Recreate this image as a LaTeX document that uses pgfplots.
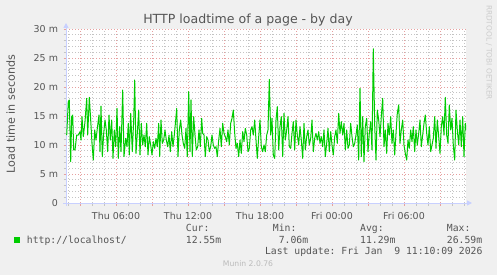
\documentclass[border=0pt]{standalone}
\usepackage{pgfplots}
\pgfplotsset{compat=1.18}
\usepackage{pgfplotstable}
\usepackage{fontspec}
\setmainfont{DejaVu Sans}
\setmonofont{DejaVu Sans Mono}
\usetikzlibrary{arrows.meta}
\definecolor{canvas}{HTML}{F0F0F0}
\definecolor{munin}{HTML}{00CC00}
\definecolor{majgrid}{HTML}{E6A0A0}
\definecolor{mingrid}{HTML}{C4C4C4}
\definecolor{axiscol}{HTML}{C8D0FF}
\definecolor{txtcol}{HTML}{555555}
\definecolor{foot}{HTML}{BBBBBB}
\definecolor{rrd}{HTML}{CCCCCC}
% k = 5-minute slot since Thu 01:50 (k=400 -> Fri 11:10), v = load time in ms
\pgfplotstableread{
k v
0.7 11.72
2.3 17.47
3.3 17.76
4.7 7.13
5.7 14.89
6.7 15.17
7.7 9.14
9.0 9.14
10.7 11.72
12.3 11.72
14.0 12.30
15.0 10.86
16.0 14.89
17.3 11.44
19.0 14.02
20.7 18.05
21.7 11.72
23.3 18.22
24.7 14.31
26.0 10.29
27.3 7.41
28.7 12.59
30.0 10.86
31.3 12.87
33.0 15.17
34.0 8.85
35.0 16.72
36.3 7.99
37.7 12.01
39.0 14.31
40.3 12.59
41.7 8.85
43.0 15.17
44.3 10.86
45.7 14.31
47.0 7.70
48.3 12.59
49.7 9.71
51.0 16.32
52.3 7.70
53.7 13.16
55.0 8.85
56.7 19.48
58.0 7.99
59.7 11.15
61.0 9.71
62.3 13.74
63.3 8.28
64.7 15.46
66.3 8.85
67.7 14.31
68.7 21.21
70.0 8.56
71.3 12.01
72.7 16.03
74.0 8.28
75.3 13.74
76.7 10.00
78.0 11.72
79.3 9.71
80.7 13.74
82.0 8.28
83.3 11.44
84.7 10.00
86.0 8.28
87.3 10.57
88.7 9.43
90.0 11.15
91.3 9.71
92.7 13.74
93.7 7.99
95.0 14.31
96.3 10.29
97.7 10.86
99.0 12.59
100.3 10.86
101.7 9.71
103.0 11.72
104.3 8.85
105.7 12.30
107.0 9.71
108.3 11.72
109.7 14.31
110.7 16.32
112.0 7.99
113.3 12.59
114.7 14.31
116.0 11.72
117.3 10.29
118.7 9.43
120.0 12.87
121.3 7.99
122.7 19.20
124.0 8.85
125.0 17.76
126.3 7.99
127.7 14.89
129.0 11.72
130.3 9.14
131.7 9.71
133.0 12.59
134.3 9.71
135.7 14.60
136.7 12.01
138.0 11.72
139.3 7.99
140.7 11.44
142.0 10.86
143.3 8.85
144.7 9.71
146.0 11.72
147.3 10.00
148.7 9.43
150.0 9.71
151.3 7.99
152.7 10.86
154.0 12.87
155.3 9.71
156.7 13.74
158.0 12.01
159.3 11.44
160.7 10.57
162.0 12.59
163.3 10.00
164.7 13.74
166.0 14.60
167.3 16.03
168.7 12.01
170.0 9.43
171.3 10.29
172.7 7.99
174.0 10.86
175.3 8.56
176.7 12.30
178.0 10.57
179.3 12.87
180.7 11.72
182.0 8.85
183.3 9.43
184.7 12.59
186.0 13.16
187.3 11.72
188.7 14.31
190.0 10.86
191.3 7.70
192.7 11.44
194.0 14.31
195.3 9.71
196.7 8.85
198.0 10.00
199.3 8.85
200.7 11.72
202.0 12.59
203.3 21.32
204.7 11.72
206.0 14.60
207.3 8.28
208.7 7.70
210.0 14.31
211.3 16.61
212.7 9.14
214.0 13.16
215.3 14.89
216.7 7.99
218.0 15.46
219.3 10.86
220.7 12.59
222.0 14.89
223.3 9.71
224.7 9.43
226.0 12.01
227.3 14.02
228.7 9.14
230.0 14.31
231.3 11.72
232.7 10.00
234.0 13.16
235.3 10.86
236.7 7.70
238.0 13.74
239.3 9.14
240.7 11.44
242.0 12.59
243.3 10.00
244.7 11.15
246.0 14.31
247.3 8.85
248.7 11.15
250.0 12.01
251.3 10.86
252.7 12.30
254.0 10.29
255.3 11.44
256.7 9.71
258.0 12.59
259.3 7.99
260.7 10.29
262.0 12.87
263.3 8.85
264.7 12.30
266.0 10.00
267.3 8.28
268.7 11.44
270.0 12.59
271.3 10.29
272.7 15.46
274.0 12.01
275.3 14.02
276.7 11.72
278.0 13.74
279.3 9.14
280.7 12.59
282.0 9.43
283.3 10.00
284.7 13.74
286.0 11.44
287.3 9.71
288.7 10.29
290.0 11.72
291.3 13.45
292.7 7.41
294.0 19.77
295.3 7.99
296.7 14.89
298.0 7.13
299.3 13.16
300.7 14.60
302.0 8.85
303.3 12.01
304.7 14.02
306.0 9.14
307.3 26.59
308.7 13.45
310.0 7.41
311.3 16.03
312.7 14.31
314.0 11.44
315.3 14.89
316.7 18.05
318.0 9.71
319.3 12.59
320.7 8.56
322.0 13.74
323.3 11.72
324.7 14.89
326.0 10.29
327.3 12.59
328.7 8.28
330.0 12.01
331.3 15.46
332.7 16.90
334.0 10.29
335.3 12.59
336.7 14.31
338.0 10.00
339.3 8.56
340.7 7.41
342.0 10.86
343.3 9.43
344.7 12.59
346.0 10.57
347.3 13.16
348.7 8.85
350.0 12.59
351.3 10.00
352.7 12.01
354.0 14.31
355.3 9.71
356.7 11.72
358.0 13.74
359.3 15.17
360.7 12.01
362.0 10.00
363.3 13.16
364.7 8.85
366.0 10.00
367.3 11.15
368.7 14.89
370.0 9.43
371.3 14.31
372.7 11.44
374.0 8.56
375.3 13.16
376.7 14.89
378.0 11.72
379.3 18.22
380.7 11.72
382.0 10.29
383.3 16.90
384.7 12.59
386.0 14.60
387.3 10.00
388.7 7.41
390.0 16.03
391.3 12.59
392.7 10.00
394.0 14.31
395.3 9.71
396.7 14.89
398.0 7.99
399.3 13.74
400.0 12.55
}\loaddata

\begin{document}
\begin{tikzpicture}
\useasboundingbox (0,0) rectangle (497bp,275bp);
\fill[canvas] (0,0) rectangle (497bp,275bp);
\begin{axis}[
  at={(66bp,72bp)}, anchor=south west,
  scale only axis, width=400bp, height=174bp,
  xmin=0, xmax=400, ymin=0, ymax=30,
  axis background/.style={fill=white},
  axis x line=bottom, axis y line=left,
  axis line style={draw=axiscol, line width=1bp},
  x axis line style={-{Triangle[length=5bp,width=5bp]}, shorten >=-6bp, shorten <=-3bp},
  y axis line style={-{Triangle[length=5bp,width=5bp]}, shorten >=-6bp, shorten <=-3bp},
  xtick={14,50,...,374},
  xticklabels={,Thu 06:00,,Thu 12:00,,Thu 18:00,,Fri 00:00,,Fri 06:00,},
  minor xtick={2,26,38,62,74,98,110,134,146,170,182,206,218,242,254,278,290,314,326,350,362,386,398},
  ytick={0,5,...,30},
  yticklabels={0,5 m,10 m,15 m,20 m,25 m,30 m},
  minor ytick={1,2,3,4,6,7,8,9,11,12,13,14,16,17,18,19,21,22,23,24,26,27,28,29},
  grid=both,
  major grid style={draw=majgrid, line width=0.6bp, dash pattern=on 1bp off 2bp},
  minor grid style={draw=mingrid, line width=0.6bp, dash pattern=on 1bp off 2bp},
  tick align=outside, major tick length=2.5bp, minor tick length=2.5bp,
  major tick style={draw=majgrid, line width=0.6bp},
  minor tick style={draw=mingrid, line width=0.6bp},
  tick label style={font=\fontsize{9.5}{11}\selectfont, text=txtcol},
  xticklabel style={anchor=base, inner sep=0pt, yshift=-13.5bp},
  yticklabel style={anchor=east, inner sep=0pt, xshift=-5.3bp},
]
\addplot[draw=munin, line width=1bp, line join=round, mark=none] table[x=k,y=v]{\loaddata};
\end{axis}
% title and axis label
\node[anchor=base, text=txtcol, font=\fontsize{12.6}{14}\selectfont] at (248bp,251.5bp) {HTTP loadtime of a page - by day};
\node[rotate=90, text=txtcol, font=\fontsize{11.2}{13}\selectfont] at (10.7bp,161bp) {Load time in seconds};
\node[rotate=-90, text=rrd, font=\fontsize{7.4}{9}\selectfont] at (489bp,222.5bp) {RRDTOOL / TOBI OETIKER};
% legend
\begin{scope}[every node/.style={anchor=base west, inner sep=0pt, text=txtcol, font=\ttfamily\fontsize{9.8}{11}\selectfont}]
\node at (185.7bp,43.7bp) {Cur:};
\node at (272.7bp,43.7bp) {Min:};
\node at (360bp,43.7bp) {Avg:};
\node at (446.7bp,43.7bp) {Max:};
\node at (26.7bp,32bp) {http://localhost/};
\node at (185.7bp,32bp) {12.55m};
\node at (278.6bp,32bp) {7.06m};
\node at (360bp,32bp) {11.29m};
\node at (446.7bp,32bp) {26.59m};
\node[anchor=base east] at (482.7bp,20.8bp) {Last update: Fri Jan~~9 11:10:09 2026};
\end{scope}
\node[anchor=south west, inner sep=0pt] at (14bp,32.3bp) {\textcolor{munin}{\rule{6bp}{5.6bp}}};
\node[text=foot, font=\fontsize{7.7}{9}\selectfont] at (248bp,11.3bp) {Munin 2.0.76};
\end{tikzpicture}
\end{document}
